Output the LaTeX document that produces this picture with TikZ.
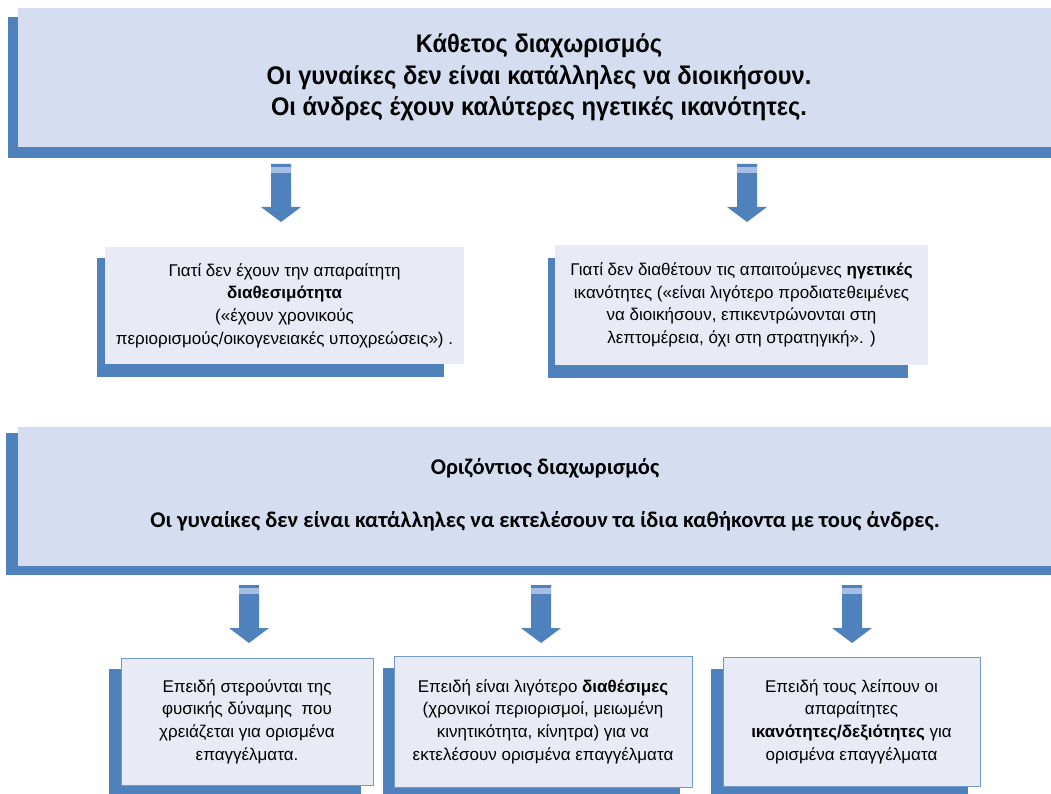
\documentclass[tikz,border=0pt]{standalone}
\usepackage{fontspec}
\setmainfont{Liberation Sans}
\newfontfamily\headfont[FakeStretch=0.93]{Liberation Sans}
\newfontfamily\calfont{Carlito}
\definecolor{shadeblue}{HTML}{4F81BD}
\definecolor{bandblue}{HTML}{A6BEE3}
\definecolor{headfill}{HTML}{D5DDF0}
\definecolor{boxfill}{HTML}{E8EBF6}
\begin{document}
\begin{tikzpicture}[
        x=1pt, y=-1pt,
        headbox/.style={fill=headfill, inner sep=0pt, minimum width=1042pt, minimum height=139pt, align=center},
        reasonbox/.style={fill=boxfill, inner sep=0pt, align=center,
            font=\fontsize{17}{22.7}\selectfont},
        causebox/.style={reasonbox, draw=shadeblue!80, line width=1pt},
        blockarrow/.pic={
            \fill[shadeblue] (-10,0) -- (10,0) -- (10,43) -- (20,43) -- (0,58) -- (-20,43) -- (-10,43) -- cycle;
            \fill[bandblue] (-10,3) rectangle (10,9);
        }
    ]
    \useasboundingbox (0,0) rectangle (1051,794);
    % shadows
    \fill[shadeblue] (8,17) rectangle (1060,158);
    \fill[shadeblue] (97,258) rectangle (444,377);
    \fill[shadeblue] (548,258) rectangle (908,378);
    \fill[shadeblue] (6,433) rectangle (1060,575);
    \fill[shadeblue] (109,669) rectangle (361,800);
    \fill[shadeblue] (383,668) rectangle (680,800);
    \fill[shadeblue] (711,669) rectangle (968,800);
    % vertical
    \node[headbox, font=\headfont\bfseries\fontsize{25.5}{31.5}\selectfont] (vert) at (539,77.5)
        {Κάθετος διαχωρισμός\\ Οι γυναίκες δεν είναι κατάλληλες να διοικήσουν.\\ Οι άνδρες έχουν καλύτερες ηγετικές ικανότητες.};
    \pic at (281,164) {blockarrow};
    \pic at (747,164) {blockarrow};
    \node[reasonbox, minimum width=359pt, minimum height=117pt] (time) at (284.5,305.5)
        {Γιατί δεν έχουν την απαραίτητη\\ \textbf{διαθεσιμότητα}\\ («έχουν χρονικούς\\ περιορισμούς/οικογενειακές υποχρεώσεις») .};
    \node[reasonbox, minimum width=373pt, minimum height=120pt] (lead) at (741.5,305)
        {Γιατί δεν διαθέτουν τις απαιτούμενες \textbf{ηγετικές}\\ ικανότητες («είναι λιγότερο προδιατεθειμένες\\ να διοικήσουν, επικεντρώνονται στη\\ λεπτομέρεια, όχι στη στρατηγική». )};
    % horizontal
    \node[headbox] (horiz) at (539,496.5) {};
    \node[font=\calfont\bfseries\fontsize{22.5}{26.5}\selectfont, align=center] (horiztext) at (545,494.5)
        {Οριζόντιος διαχωρισμός\\[26.5pt] Οι γυναίκες δεν είναι κατάλληλες να εκτελέσουν τα ίδια καθήκοντα με τους άνδρες.};
    \pic at (249,585) {blockarrow};
    \pic at (541,585) {blockarrow};
    \pic at (852,585) {blockarrow};
    \node[causebox, minimum width=252pt, minimum height=127pt] (force) at (247,721.5)
        {Επειδή στερούνται της\\ φυσικής δύναμης~ που\\ χρειάζεται για ορισμένα\\ επαγγέλματα.};
    \node[causebox, minimum width=298pt, minimum height=131pt] (avail) at (543,721.5)
        {Επειδή είναι λιγότερο \textbf{διαθέσιμες}\\ (χρονικοί περιορισμοί, μειωμένη\\ κινητικότητα, κίνητρα) για να\\ εκτελέσουν ορισμένα επαγγέλματα};
    \node[causebox, minimum width=257pt, minimum height=129pt] (skill) at (851.5,721.5)
        {Επειδή τους λείπουν οι\\ απαραίτητες\\ \textbf{ικανότητες/δεξιότητες} για\\ ορισμένα επαγγέλματα};
\end{tikzpicture}
\end{document}
